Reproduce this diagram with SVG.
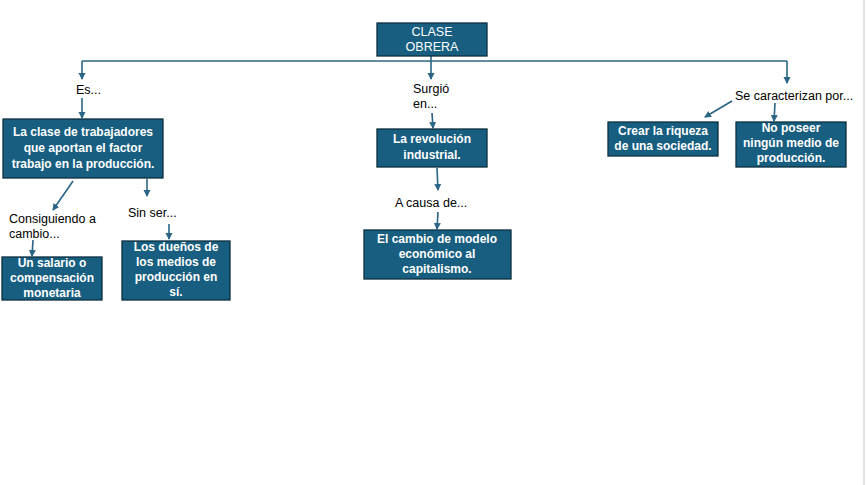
<svg xmlns="http://www.w3.org/2000/svg" width="866" height="485" viewBox="0 0 866 485">
<style>
.box{fill:#175e80;stroke:#0c2e3d;stroke-width:1.3}
.bt{font-family:"Liberation Sans",Arial,sans-serif;font-size:12px;font-weight:bold;fill:#ffffff;text-anchor:middle}
.mt{font-family:"Liberation Sans",Arial,sans-serif;font-size:12.5px;fill:#ffffff;text-anchor:middle}
.lb{font-family:"Liberation Sans",Arial,sans-serif;font-size:12.5px;fill:#000000}
.ln{fill:none;stroke:#2a6585;stroke-width:1.6}
</style>
<defs>
<marker id="ah" markerWidth="8" markerHeight="8" refX="6" refY="3.5" orient="auto" markerUnits="userSpaceOnUse">
<path d="M0,0 L7,3.5 L0,7 Z" fill="#2a6585"/>
</marker>
</defs>
<rect x="0" y="0" width="866" height="485" fill="#ffffff"/>
<rect x="863" y="0" width="2" height="485" fill="#e2e2e2"/>
<g id="connectors">
<path class="ln" d="M82,61 H787"/>
<path class="ln" d="M82,61 V79" marker-end="url(#ah)"/>
<path class="ln" d="M431,56 V79" marker-end="url(#ah)"/>
<path class="ln" d="M787,61 V83" marker-end="url(#ah)"/>
<path class="ln" d="M82,98 V118" marker-end="url(#ah)"/>
<path class="ln" d="M432,113 L433,128" marker-end="url(#ah)"/>
<path class="ln" d="M437,168 L438,190" marker-end="url(#ah)"/>
<path class="ln" d="M438,212 L437,229" marker-end="url(#ah)"/>
<path class="ln" d="M732,101 L705,117" marker-end="url(#ah)"/>
<path class="ln" d="M775,103 L774,121" marker-end="url(#ah)"/>
<path class="ln" d="M73,181 L53,210" marker-end="url(#ah)"/>
<path class="ln" d="M33,240 L32,256" marker-end="url(#ah)"/>
<path class="ln" d="M147,179 L147,196" marker-end="url(#ah)"/>
<path class="ln" d="M169,224 L169,239" marker-end="url(#ah)"/>
</g>
<g id="n-clase">
<rect class="box" x="377" y="23" width="110" height="33"/>
<text class="mt" x="432" y="36">CLASE</text>
<text class="mt" x="432" y="51">OBRERA</text>
</g>
<g id="l-es"><text class="lb" x="76" y="94">Es...</text></g>
<g id="l-surgio"><text class="lb" x="413" y="93">Surgió</text><text class="lb" x="413" y="108">en...</text></g>
<g id="l-secar"><text class="lb" x="735" y="100">Se caracterizan por...</text></g>
<g id="n-clase-trab">
<rect class="box" x="3" y="119" width="160" height="59"/>
<text class="bt" x="83" y="136">La clase de trabajadores</text>
<text class="bt" x="83" y="152">que aportan el factor</text>
<text class="bt" x="83" y="168">trabajo en la producción.</text>
</g>
<g id="n-revolucion">
<rect class="box" x="377" y="129" width="110" height="38"/>
<text class="bt" x="432" y="143">La revolución</text>
<text class="bt" x="432" y="159">industrial.</text>
</g>
<g id="l-acausa"><text class="lb" x="395" y="207">A causa de...</text></g>
<g id="n-cambio">
<rect class="box" x="364" y="230" width="147" height="49"/>
<text class="bt" x="437" y="243">El cambio de modelo</text>
<text class="bt" x="437" y="258">económico al</text>
<text class="bt" x="437" y="273">capitalismo.</text>
</g>
<g id="n-riqueza">
<rect class="box" x="608" y="122" width="110" height="34"/>
<text class="bt" x="663" y="135">Crear la riqueza</text>
<text class="bt" x="663" y="150">de una sociedad.</text>
</g>
<g id="n-noposeer">
<rect class="box" x="736" y="122" width="110" height="45"/>
<text class="bt" x="791" y="132">No poseer</text>
<text class="bt" x="791" y="147">ningún medio de</text>
<text class="bt" x="791" y="162">producción.</text>
</g>
<g id="l-consiguiendo"><text class="lb" x="9" y="223">Consiguiendo a</text><text class="lb" x="9" y="238">cambio...</text></g>
<g id="l-sinser"><text class="lb" x="128" y="217">Sin ser...</text></g>
<g id="n-salario">
<rect class="box" x="2" y="257" width="100" height="43"/>
<text class="bt" x="52" y="267">Un salario o</text>
<text class="bt" x="52" y="282">compensación</text>
<text class="bt" x="52" y="297">monetaria</text>
</g>
<g id="n-duenos">
<rect class="box" x="122" y="241" width="108" height="59"/>
<text class="bt" x="176" y="251">Los dueños de</text>
<text class="bt" x="176" y="266">los medios de</text>
<text class="bt" x="176" y="281">producción en</text>
<text class="bt" x="176" y="296">sí.</text>
</g>
</svg>
